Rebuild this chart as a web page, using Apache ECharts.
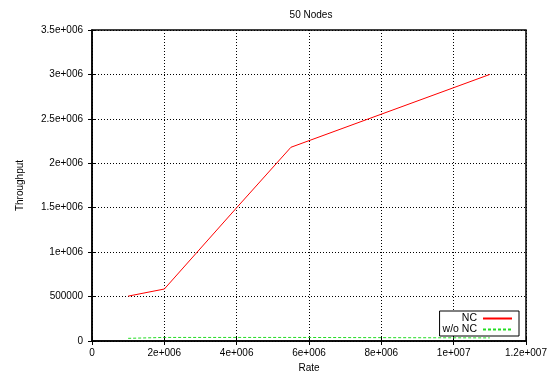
<!DOCTYPE html>
<html><head><meta charset="utf-8">
<script src="https://cdn.jsdelivr.net/npm/echarts@6/dist/echarts.min.js"></script>
<style>html,body{margin:0;padding:0;background:#fff}#c{width:554px;height:371px}</style>
</head><body><div id="c"></div>
<script>
const titleText = '50 Nodes';
const xName = 'Rate';
const yName = 'Throughput';
const ncX = [1000000, 2000000, 4000000, 5500000, 11000000];
const ncY = [505000, 585000, 1500000, 2180000, 3000000];
const wncX = [1000000, 2000000, 5500000, 11000000];
const wncY = [30000, 40000, 40000, 35000];
const seriesNames = ['NC', 'w/o NC'];

function gp(v){
  if (v === 0) return '0';
  if (Math.abs(v) < 1e6) return String(v);
  const e = Math.floor(Math.log10(v) + 1e-9);
  const m = +(v / Math.pow(10, e)).toFixed(3);
  return m + 'e+' + String(e).padStart(3, '0');
}
const font = 'Liberation Sans, Arial, sans-serif';
const gridLine = {show:true, lineStyle:{color:'#000', type:[1,2], width:1}};
const chart = echarts.init(document.getElementById('c'));
chart.setOption({
  animation:false,
  backgroundColor:'#fff',
  title:{text:titleText, left:306, top:5, textAlign:'center', textStyle:{fontFamily:font, fontSize:10, fontWeight:'normal', color:'#000'}},
  grid:{left:92, right:28, top:30, bottom:30, show:true, borderColor:'#000', borderWidth:1.5, containLabel:false, outerBoundsMode:'none'},
  legend:{
    orient:'vertical', right:35, bottom:35, align:'right',
    itemWidth:29, itemHeight:4, itemGap:0, padding:[2,6,1,3],
    borderColor:'#000', borderWidth:1, backgroundColor:'#fff',
    itemStyle:{opacity:0},
    textStyle:{fontFamily:font, fontSize:10.5, color:'#000', padding:[0,1,0,0]},
    data:seriesNames
  },
  xAxis:[{
    type:'value', min:0, max:12000000, interval:2000000,
    name:xName, nameLocation:'middle', nameGap:20,
    nameTextStyle:{fontFamily:font, fontSize:10, color:'#000'},
    axisLine:{show:true, lineStyle:{color:'#000', width:1.5}},
    axisTick:{show:true, inside:true, length:4, lineStyle:{color:'#000'}},
    axisLabel:{formatter:gp, fontFamily:font, fontSize:10, color:'#000', margin:7},
    splitLine:gridLine
  },{
    type:'value', position:'top', min:0, max:12000000, interval:2000000,
    axisLine:{show:false}, axisTick:{show:true, inside:true, length:4, lineStyle:{color:'#000'}},
    axisLabel:{show:false}, splitLine:{show:false}
  }],
  yAxis:[{
    type:'value', min:0, max:3500000, interval:500000,
    name:yName, nameLocation:'middle', nameGap:67, nameRotate:90,
    nameTextStyle:{fontFamily:font, fontSize:10, color:'#000'},
    axisLine:{show:true, lineStyle:{color:'#000', width:1.5}},
    axisTick:{show:true, inside:true, length:4, lineStyle:{color:'#000'}},
    axisLabel:{formatter:gp, fontFamily:font, fontSize:10, color:'#000', margin:9},
    splitLine:gridLine
  },{
    type:'value', position:'right', min:0, max:3500000, interval:500000,
    axisLine:{show:false}, axisTick:{show:true, inside:true, length:4, lineStyle:{color:'#000'}},
    axisLabel:{show:false}, splitLine:{show:false}
  }],
  series:[{
    name:seriesNames[0], type:'line', symbol:'none', showSymbol:false,
    data:ncX.map((x,i)=>[x, ncY[i]]),
    lineStyle:{color:'#ff0000', width:1}, itemStyle:{color:'#ff0000'}, z:3
  },{
    name:seriesNames[1], type:'line', symbol:'none', showSymbol:false,
    data:wncX.map((x,i)=>[x, wncY[i]]),
    lineStyle:{color:'#22dd22', width:1, type:[3,2]}, itemStyle:{color:'#22dd22'}, z:3
  }]
});
</script></body></html>
